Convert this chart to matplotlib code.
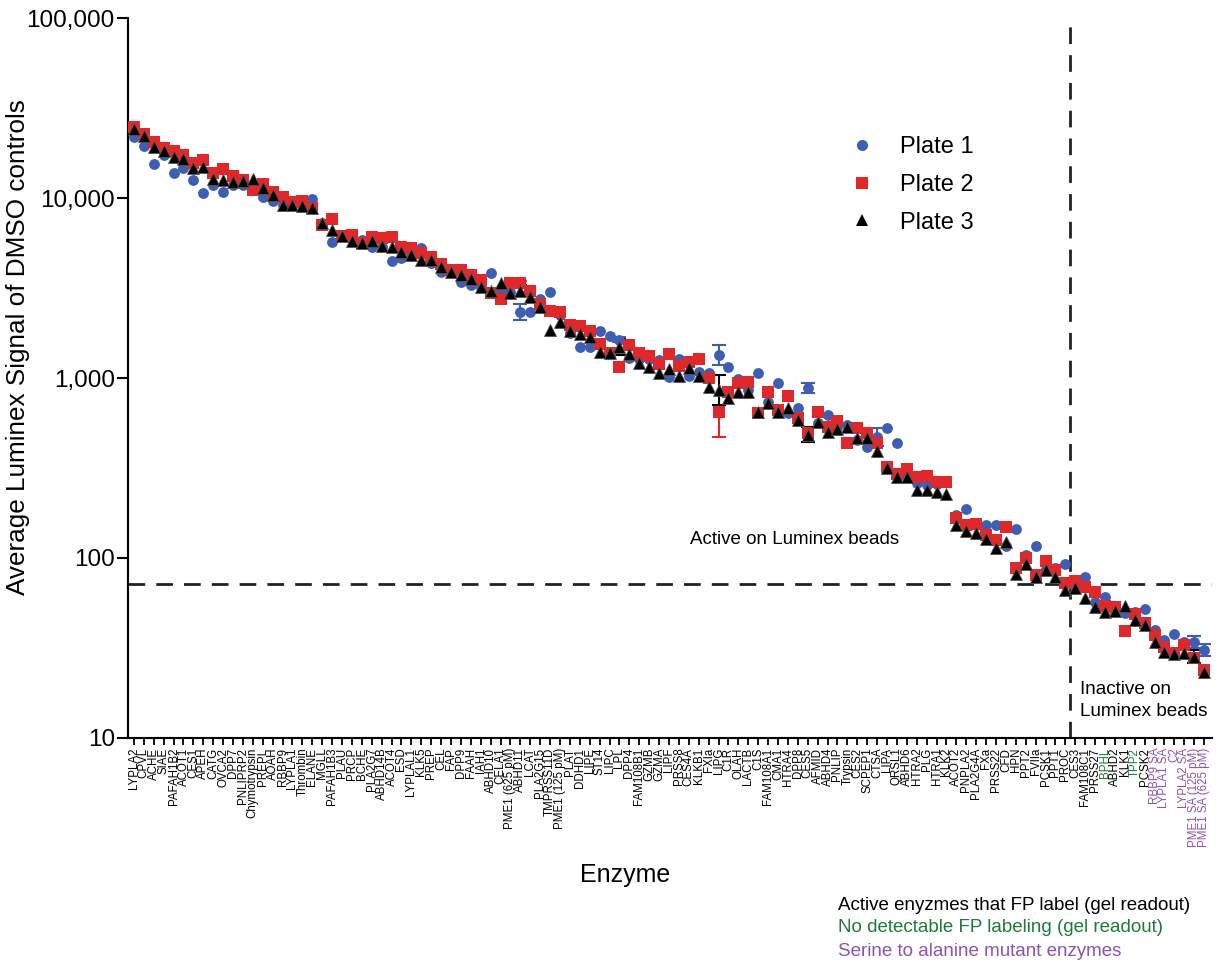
import matplotlib
matplotlib.use("Agg")
import matplotlib.pyplot as plt
from matplotlib.lines import Line2D
from matplotlib.ticker import FixedLocator, NullLocator

plt.rcParams['font.family'] = ['Liberation Sans', 'DejaVu Sans']

enzymes = [
    "LYPLA2", "CPVL", "ACHE", "SIAE", "PAFAH1B2", "ACOT1", "CES1", "APEH", "CATG", "OVCA2",
    "DPP7", "PNLIPRP2", "Chymotrypsin", "PREPL", "AOAH", "RBBP9", "LYPLA1", "Thrombin", "ELANE", "MGLL",
    "PAFAH1B3", "PLAU", "PRCP", "BCHE", "PLA2G7", "ABHD14B", "ACOT4", "ESD", "LYPLAL1", "KLK5",
    "PREP", "CEL", "FAP", "DPP9", "FAAH", "IAH1", "ABHD10", "CELA1", "PME1 (625 pM)", "ABHD11",
    "LCAT", "PLA2G15", "TMPRSS11D", "PME1 (125 pM)", "PLAT", "DDHD1", "LIPE", "ST14", "LIPC", "LPL",
    "DPP4", "FAM108B1", "GZMB", "GZMA", "LIPF", "PRSS8", "CES4A", "KLKB1", "FXIa", "LIPG",
    "C1R", "OLAH", "LACTB", "C1S", "FAM108A1", "CMA1", "HTRA4", "DPP8", "CES5", "AFMID",
    "ABHD4", "PNLIP", "Trypsin", "CES2", "SCPEP1", "CTSA", "LIPA", "QRSL1", "ABHD6", "HTRA2",
    "PLG", "HTRA1", "KLK2", "ACOT2", "PNPLA2", "PLA2G4A", "FXa", "PRSS22", "CFD", "HPN",
    "PPT2", "FVIIa", "PCSK1", "PPT1", "PROC", "CES3", "FAM108C1", "PRSS27", "BPHL", "ABHD2",
    "KLK1", "TPP2", "PCSK2", "RBBP9 SA", "LYPLA1 SA", "C2", "LYPLA2 SA", "PME1 SA (125 pM)", "PME1 SA (625 pM)",
]

plate1 = [
    21900, 19400, 15400, 17300, 13700, 14600, 12600, 10600, 11800, 10800,
    11800, 11800, 11400, 10100, 9670, 9140, 9140, 9140, 9840, 7250,
    5670, 6230, 5850, 5850, 5320, 5320, 4480, 4620, 4880, 5260,
    4330, 3900, 3900, 3430, 3290, 3210, 3850, 3110, 3010, 2320,
    2340, 2740, 3010, 2250, 1770, 1480, 1480, 1830, 1720, 1630,
    1290, 1280, 1270, 1260, 1010, 1270, 1020, 1080, 1060, 1340,
    1150, 985, 858, 1060, 738, 942, 641, 679, 877, 560,
    622, 532, 548, 453, 415, 472, 526, 434, 289, 262,
    255, 259, 266, 173, 187, 157, 152, 152, 117, 144,
    104, 117, 86.5, 87.7, 92.6, 69.9, 78.8, 57.1, 60.9, 50.0,
    49.3, 50.0, 51.9, 39.8, 35.0, 37.8, 34.3, 34.3, 30.8,
]

plate2 = [
    24900, 22700, 20600, 19000, 18300, 17300, 15700, 16200, 13700, 14400,
    13300, 12600, 11100, 12000, 10800, 10100, 9520, 9670, 8830, 7080,
    7620, 6150, 6230, 5650, 6050, 5980, 6050, 5370, 5260, 4930,
    4690, 4300, 3980, 3980, 3730, 3500, 2960, 2740, 3380, 3350,
    3060, 2580, 2370, 2340, 1970, 1940, 1830, 1550, 1380, 1150,
    1520, 1370, 1320, 1200, 1360, 1170, 1230, 1270, 995, 650,
    839, 935, 954, 637, 839, 664, 794, 597, 497, 650,
    532, 580, 434, 526, 493, 434, 321, 293, 311, 281,
    285, 266, 266, 166, 152, 155, 134, 126, 148, 87.7,
    99.6, 80.5, 96.7, 85.8, 72.9, 74.8, 68.7, 65.0, 54.1, 53.2,
    39.4, 48.9, 43.7, 37.3, 32.1, 29.8, 32.9, 27.7, 23.9,
]

plate3 = [
    24200, 22100, 19300, 18300, 16900, 16400, 14600, 14800, 12800, 12600,
    12200, 12400, 12700, 11300, 10400, 9140, 9140, 9030, 8760, 7290,
    6640, 6150, 5760, 5650, 5780, 5410, 5370, 5040, 4820, 4530,
    4530, 4120, 3900, 3730, 3530, 3190, 3060, 3380, 2960, 3060,
    2830, 2490, 1850, 2060, 1830, 1750, 1690, 1400, 1380, 1490,
    1360, 1210, 1150, 1060, 1120, 1020, 1130, 1030, 887, 858,
    771, 839, 839, 650, 722, 650, 679, 585, 482, 571,
    503, 519, 532, 463, 463, 394, 315, 283, 283, 239,
    239, 234, 227, 152, 142, 137, 127, 113, 122, 81.5,
    92.6, 78.2, 85.8, 78.8, 66.4, 67.9, 59.7, 53.2, 50.3, 50.9,
    54.1, 45.2, 42.5, 34.3, 30.1, 29.3, 29.6, 28.3, 23.4,
]

# error bars: (enzyme, plate, low, high)
err_enzyme = ["ABHD11", "ABHD11", "ABHD11", "LPL", "LPL", "LIPG", "LIPG", "LIPG",
              "CES5", "CES5", "CTSA", "PME1 SA (125 pM)", "PME1 SA (125 pM)", "PME1 SA (625 pM)"]
err_plate = [1, 2, 3, 1, 3, 1, 2, 3, 1, 3, 1, 1, 3, 1]
err_low = [2100, 3250, 2850, 1580, 1350, 1180, 470, 708, 822, 443, 417, 31.5, 26.0, 28.6]
err_high = [2570, 3450, 3270, 1680, 1650, 1530, 826, 1040, 938, 536, 527, 37.0, 30.8, 33.2]

green_labels = ["BPHL", "TPP2"]
purple_labels = ["RBBP9 SA", "LYPLA1 SA", "C2", "LYPLA2 SA", "PME1 SA (125 pM)", "PME1 SA (625 pM)"]

threshold = 72
cutoff = "PROC"

blue = "#3d5eb3"
red = "#e0282a"
green = "#1f7a3a"
purple = "#8e52b0"

fig = plt.figure(figsize=(12.21, 9.6), dpi=100)
ax = fig.add_axes([128 / 1221, 1 - 738 / 960, 1084 / 1221, 720 / 960])

x = list(range(len(enzymes)))
plates = [plate1, plate2, plate3]
colors = [blue, red, "black"]

for e, p, lo, hi in zip(err_enzyme, err_plate, err_low, err_high):
    i = enzymes.index(e)
    v = plates[p - 1][i]
    ax.errorbar([i], [v], yerr=[[v - lo], [hi - v]], fmt="none",
                ecolor=colors[p - 1], elinewidth=1.5, capsize=5, capthick=1.5, zorder=2)

ax.plot(x, plate1, "o", color=blue, markersize=7.8, markeredgewidth=0, zorder=3)
ax.plot(x, plate2, "s", color=red, markersize=8.3, markeredgewidth=0, zorder=4)
ax.plot(x, plate3, "^", color="black", markersize=8, markeredgewidth=0.6,
        markeredgecolor="#555555", zorder=5)

ax.set_yscale("log")
ax.set_ylim(10, 100000)
ax.set_xlim(-0.6, len(enzymes) - 0.2)

ax.axhline(threshold, color="#222222", linestyle=(0, (6, 4)), linewidth=2, zorder=1)
ax.axvline(enzymes.index(cutoff) + 0.5, ymax=0.99, color="#222222",
           linestyle=(0, (6, 4)), linewidth=2, zorder=1)

ax.yaxis.set_major_locator(FixedLocator([10, 100, 1000, 10000, 100000]))
ax.yaxis.set_minor_locator(NullLocator())
ax.set_yticklabels(["10", "100", "1,000", "10,000", "100,000"], fontsize=17.5)

ax.set_xticks(x)
ax.set_xticklabels(enzymes, rotation=90, fontsize=8.3)
for lab in ax.get_xticklabels():
    if lab.get_text() in green_labels:
        lab.set_color(green)
    elif lab.get_text() in purple_labels:
        lab.set_color(purple)

ax.tick_params(axis="x", length=5, width=1.3, pad=2)
ax.tick_params(axis="y", length=8, width=1.5, pad=1.5)
for s in ["top", "right"]:
    ax.spines[s].set_visible(False)
for s in ["left", "bottom"]:
    ax.spines[s].set_linewidth(1.5)

ax.set_ylabel("Average Luminex Signal of DMSO controls", fontsize=18.8)
ax.yaxis.set_label_coords((30 - 128) / 1084, (738 - 347) / 720)
fig.text(625 / 1221, 1 - 875 / 960, "Enzyme", fontsize=18, ha="center", va="center")

fig.text(690 / 1221, 1 - 539 / 960, "Active on Luminex beads", fontsize=13.5,
         va="center", ha="left")
fig.text(1080 / 1221, 1 - 690 / 960, "Inactive on", fontsize=13.6, va="center", ha="left")
fig.text(1080 / 1221, 1 - 712 / 960, "Luminex beads", fontsize=13.6, va="center", ha="left")

fig.text(838 / 1221, 1 - 905 / 960, "Active enyzmes that FP label (gel readout)",
         fontsize=13.5, va="center", ha="left", color="black")
fig.text(838 / 1221, 1 - 928 / 960, "No detectable FP labeling (gel readout)",
         fontsize=13.5, va="center", ha="left", color=green)
fig.text(838 / 1221, 1 - 951 / 960, "Serine to alanine mutant enzymes",
         fontsize=13.5, va="center", ha="left", color=purple)

handles = [
    Line2D([], [], marker="o", linestyle="none", color=blue, markersize=8, markeredgewidth=0),
    Line2D([], [], marker="s", linestyle="none", color=red, markersize=8, markeredgewidth=0),
    Line2D([], [], marker="^", linestyle="none", color="black", markersize=8, markeredgewidth=0),
]
fig.legend(handles, ["Plate 1", "Plate 2", "Plate 3"], loc="upper left",
           bbox_to_anchor=(850 / 1221, 1 - 136 / 960), frameon=False, fontsize=17,
           handlelength=1.0, handletextpad=1.1, labelspacing=0.67,
           borderpad=0, borderaxespad=0)

fig.savefig("out.png", dpi=100)
